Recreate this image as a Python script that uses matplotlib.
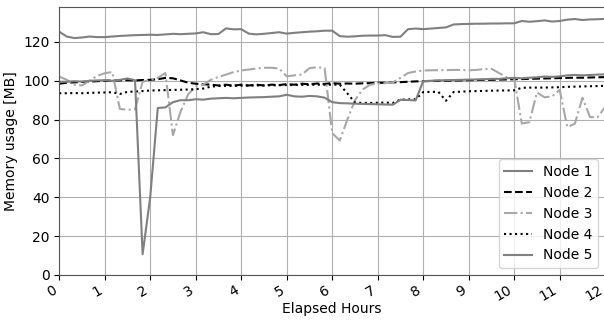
import numpy as np
import matplotlib
matplotlib.use("Agg")
import matplotlib.pyplot as plt

plt.rcParams["font.size"] = 10

# elapsed time, one sample every 10 minutes
hours = np.arange(73) / 6.0

node1 = [125.3, 122.8, 122.0, 122.3, 122.8, 122.5, 122.5, 122.8, 123.1, 123.3,
         123.5, 123.6, 123.7, 123.6, 123.9, 124.2, 124.0, 124.2, 124.4, 125.0,
         124.0, 124.1, 127.0, 126.5, 126.6, 124.3, 123.9, 124.2, 124.6, 125.0,
         124.3, 124.7, 125.0, 125.3, 125.5, 125.8, 125.8, 123.0, 122.7, 122.9,
         123.2, 123.3, 123.3, 123.5, 122.6, 122.7, 126.6, 126.9, 126.6, 126.9,
         127.2, 127.5, 129.0, 129.2, 129.3, 129.4, 129.4, 129.5, 129.5, 129.6,
         129.6, 130.8, 130.4, 130.7, 131.1, 130.5, 130.8, 131.5, 131.8, 131.3,
         131.6, 131.7, 131.9]

node2 = [98.5, 99.0, 99.2, 99.4, 99.6, 99.8, 100.0, 100.1, 100.2, 100.3,
         100.2, 100.4, 100.5, 100.8, 101.5, 101.3, 100.2, 99.0, 98.5, 98.2,
         98.0, 97.6, 98.0, 97.5, 98.0, 97.6, 98.0, 97.6, 98.0, 97.8,
         98.3, 98.0, 98.5, 98.2, 98.6, 98.4, 98.8, 98.5, 98.6, 98.5,
         98.7, 98.8, 99.0, 99.0, 99.2, 99.3, 99.5, 99.7, 99.8, 99.9,
         100.0, 100.0, 100.1, 100.2, 100.3, 100.4, 100.5, 100.5, 100.6, 100.7,
         100.8, 100.9, 101.0, 101.1, 101.2, 101.3, 101.4, 101.5, 101.6, 101.6,
         101.7, 101.8, 101.9]

node3 = [102.2, 100.5, 98.0, 97.6, 100.0, 102.5, 103.9, 104.5, 85.5, 85.1,
         85.3, 99.5, 100.5, 101.5, 104.0, 72.0, 84.0, 93.0, 97.0, 98.0,
         100.5, 102.0, 103.2, 104.5, 105.3, 105.8, 106.3, 106.7, 106.7, 106.3,
         102.3, 102.8, 103.2, 106.5, 107.0, 106.5, 73.0, 69.3, 80.0, 90.0,
         95.5, 98.0, 98.6, 98.8, 99.2, 101.5, 104.0, 104.8, 105.3, 105.4,
         105.5, 105.5, 105.6, 105.6, 105.4, 105.6, 106.0, 106.2, 104.0, 101.8,
         101.2, 78.0, 78.7, 94.0, 91.5, 92.0, 95.3, 76.2, 77.9, 91.3,
         81.3, 81.3, 86.5]

node4 = [93.6, 93.6, 93.7, 93.6, 93.8, 93.9, 94.0, 94.1, 93.2, 94.3,
         94.5, 94.7, 95.0, 95.1, 95.2, 95.3, 95.4, 95.5, 95.7, 96.0,
         97.0, 97.3, 97.4, 97.4, 97.5, 97.5, 97.6, 97.6, 97.7, 97.7,
         97.8, 97.8, 97.9, 97.9, 98.0, 98.0, 98.0, 98.0, 93.5, 88.8,
         88.6, 88.6, 88.7, 88.8, 88.6, 90.3, 90.4, 90.5, 94.2, 94.3,
         94.3, 89.7, 94.2, 94.4, 94.6, 94.7, 94.8, 94.9, 95.0, 95.0,
         95.1, 96.4, 96.5, 96.5, 96.5, 96.6, 96.7, 96.9, 97.0, 97.1,
         97.2, 97.3, 97.4]

node5 = [99.5, 99.5, 99.8, 99.6, 100.0, 100.2, 100.3, 100.0, 100.5, 101.2,
         100.3, 10.7, 40.0, 86.0, 86.3, 89.0, 90.0, 90.0, 90.5, 90.3,
         90.8, 91.0, 91.2, 91.0, 91.2, 91.4, 91.5, 91.6, 91.8, 92.0,
         92.8, 92.0, 91.8, 92.2, 92.0, 91.3, 89.0, 88.5, 88.4, 88.2,
         88.1, 88.0, 87.9, 87.8, 87.7, 90.2, 90.1, 89.9, 99.8, 100.0,
         100.2, 100.3, 100.4, 100.5, 100.6, 100.7, 100.8, 101.0, 101.0, 101.3,
         101.5, 101.3, 101.6, 101.8, 102.2, 102.0, 102.3, 102.8, 103.0, 102.8,
         103.0, 103.2, 103.3]

fig = plt.figure(figsize=(6.04, 3.22), dpi=100)
ax = fig.add_axes([0.098, 0.146, 0.904, 0.832])

ax.plot(hours, node1, color='#808080', linestyle='-', lw=1.5, label='Node 1')
ax.plot(hours, node2, color='black', linestyle='--', lw=1.5, label='Node 2')
ax.plot(hours, node3, color='#a8a8a8', linestyle='-.', lw=1.5, label='Node 3')
ax.plot(hours, node4, color='black', linestyle=':', lw=1.5, label='Node 4')
ax.plot(hours, node5, color='#808080', linestyle='-', lw=1.5, label='Node 5')

ax.set_xlim(0, 12)
ax.set_ylim(bottom=0)
ax.set_xticks(range(13))
ax.tick_params(axis='x', pad=2)
plt.setp(ax.get_xticklabels(), rotation=30, ha='right')
ax.grid(True, color='#b0b0b0')
for s in ax.spines.values():
    s.set_color('#555555')
ax.set_xlabel('Elapsed Hours', labelpad=-1)
ax.set_ylabel('Memory usage [MB]')
ax.legend(loc='lower right')

fig.savefig('out.png', dpi=100)
